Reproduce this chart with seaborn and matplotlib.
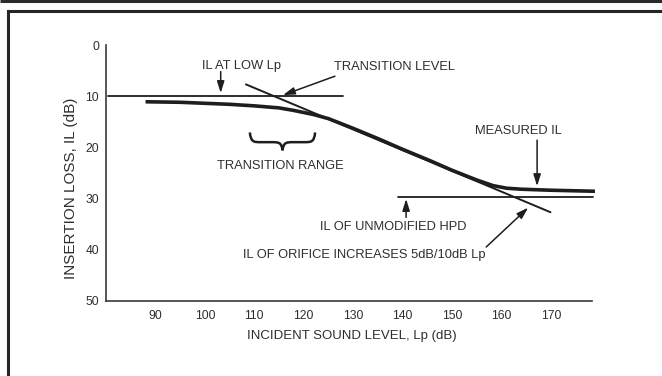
import matplotlib
matplotlib.use("Agg")
import matplotlib.pyplot as plt
import seaborn as sns
import numpy as np
import pandas as pd
from matplotlib.path import Path
from matplotlib.patches import PathPatch
from matplotlib.lines import Line2D

# ---------------- data ----------------
measured_lp = [88, 95, 100, 105, 110, 115, 118, 120, 122, 125, 130, 135, 140, 145.5, 150, 155, 158.3, 161, 164, 170, 178.9]
measured_il = [11.1, 11.2, 11.4, 11.6, 11.9, 12.3, 12.8, 13.2, 13.6, 14.4, 16.3, 18.3, 20.4, 22.6, 24.5, 26.4, 27.5, 28.0, 28.2, 28.4, 28.6]

low_lp = [80.4, 127.9]
low_il = [10, 10]

transition_lp = [108.3, 169.9]
transition_il = [7.7, 32.7]

hpd_lp = [139.1, 178.5]
hpd_il = [29.8, 29.8]

brace_range = [109.1, 122.3]

x_ticks = [90, 100, 110, 120, 130, 140, 150, 160, 170]
y_ticks = [0, 10, 20, 30, 40, 50]

x_label = "INCIDENT SOUND LEVEL, Lp (dB)"
y_label = "INSERTION LOSS, IL (dB)"

# ---------------- style ----------------
sns.set_theme(style="white")
plt.rcParams["font.family"] = ["Liberation Sans", "DejaVu Sans"]

INK = "#1e1e1e"
AX = "#3a3a3a"
TXT = "#2e2e2e"

fig = plt.figure(figsize=(6.62, 3.76), dpi=100)
fig.patch.set_facecolor("white")
W, H = 662, 376
ax = fig.add_axes([106 / W, 1 - 300.7 / H, (592 - 106) / W, (300.7 - 45) / H])
ax.set_facecolor("white")

df_meas = pd.DataFrame({"Lp": measured_lp, "IL": measured_il})
df_low = pd.DataFrame({"Lp": low_lp, "IL": low_il})
df_tr = pd.DataFrame({"Lp": transition_lp, "IL": transition_il})
df_hpd = pd.DataFrame({"Lp": hpd_lp, "IL": hpd_il})

sns.lineplot(data=df_low, x="Lp", y="IL", ax=ax, color=INK, lw=1.3, sort=False, clip_on=False)
sns.lineplot(data=df_hpd, x="Lp", y="IL", ax=ax, color=INK, lw=1.3, sort=False, clip_on=False)
sns.lineplot(data=df_tr, x="Lp", y="IL", ax=ax, color=INK, lw=1.4, sort=False, clip_on=False)
sns.lineplot(data=df_meas, x="Lp", y="IL", ax=ax, color=INK, lw=2.6, sort=False, clip_on=False,
             solid_capstyle="butt")

ax.set_xlim(80, 178.3)
ax.set_ylim(50, 0)
ax.set_xticks(x_ticks)
ax.set_yticks(y_ticks)
ax.tick_params(axis="x", direction="in", length=8, width=1.1, color=AX, pad=6.5,
               labelsize=8.7, labelcolor=TXT)
ax.tick_params(axis="y", direction="in", length=8.6, width=1.1, color=AX, pad=5,
               labelsize=8.7, labelcolor=TXT)
for s in ["top", "right"]:
    ax.spines[s].set_visible(False)
for s in ["left", "bottom"]:
    ax.spines[s].set_color(AX)
    ax.spines[s].set_linewidth(1.2)

ax.set_xlabel(x_label, fontsize=9.5, color=TXT)
ax.xaxis.set_label_coords(0.506, -0.138)
ax.xaxis.label.set_va("center")
ax.set_ylabel(y_label, fontsize=11, color=TXT)
ax.yaxis.set_label_coords(-0.072, 0.441)
ax.yaxis.label.set_va("center")

# ---------------- annotations ----------------
fs = 9.3
arrow_kw = dict(arrowstyle="-|>,head_length=0.7,head_width=0.22", color=INK, lw=1.1,
                mutation_scale=10, shrinkA=0, shrinkB=0)

ax.text(107.4, 4.1, "IL AT LOW Lp", ha="center", va="center", fontsize=fs, color=TXT)
ax.annotate("", xy=(103.2, 9.4), xytext=(103.2, 5.2), arrowprops=arrow_kw)

ax.text(138.4, 4.25, "TRANSITION LEVEL", ha="center", va="center", fontsize=fs, color=TXT)
ax.annotate("", xy=(115.8, 9.8), xytext=(126.3, 6.1), arrowprops=arrow_kw)

ax.text(115.2, 23.7, "TRANSITION RANGE", ha="center", va="center", fontsize=fs, color=TXT)

ax.text(163.4, 16.9, "MEASURED IL", ha="center", va="center", fontsize=fs, color=TXT)
ax.annotate("", xy=(167.2, 27.6), xytext=(167.2, 18.6), arrowprops=arrow_kw)

ax.text(153.0, 35.5, "IL OF UNMODIFIED HPD", ha="right", va="center", fontsize=fs, color=TXT)
ax.annotate("", xy=(140.7, 30.1), xytext=(140.7, 33.7), arrowprops=arrow_kw)

ax.text(132.3, 41.0, "IL OF ORIFICE INCREASES 5dB/10dB Lp", ha="center", va="center",
        fontsize=fs, color=TXT)
ax.annotate("", xy=(165.4, 31.8), xytext=(156.9, 39.5), arrowprops=arrow_kw)

# curly brace under the transition range
x0, x1 = brace_range
xm = (x0 + x1) / 2
y0, y1, y2 = 17.1, 19.0, 20.6
verts = [
    (x0, y0), (x0 + 0.2, y1), (x0 + 0.8, y1), (x0 + 2.2, y1),
    (xm - 2.2, y1),
    (xm - 0.8, y1), (xm - 0.2, y1), (xm, y2),
    (xm + 0.2, y1), (xm + 0.8, y1), (xm + 2.2, y1),
    (x1 - 2.2, y1),
    (x1 - 0.8, y1), (x1 - 0.2, y1), (x1, y0),
]
codes = [Path.MOVETO, Path.CURVE4, Path.CURVE4, Path.CURVE4,
         Path.LINETO,
         Path.CURVE4, Path.CURVE4, Path.CURVE4,
         Path.CURVE4, Path.CURVE4, Path.CURVE4,
         Path.LINETO,
         Path.CURVE4, Path.CURVE4, Path.CURVE4]
ax.add_patch(PathPatch(Path(verts, codes), facecolor="none", edgecolor=INK, lw=1.8))

# ---------------- page frame ----------------
fig.add_artist(Line2D([0, 1], [1 - 1.2 / H, 1 - 1.2 / H], transform=fig.transFigure,
                      color="#2b2b2b", lw=2.2, solid_capstyle="butt"))
fig.add_artist(Line2D([7.5 / W, 7.5 / W, 1.01], [-0.01, 1 - 11.3 / H, 1 - 11.3 / H],
                      transform=fig.transFigure, color="#262626", lw=2.2,
                      solid_joinstyle="miter", solid_capstyle="butt"))

fig.savefig("out.png", dpi=100, facecolor="white")
